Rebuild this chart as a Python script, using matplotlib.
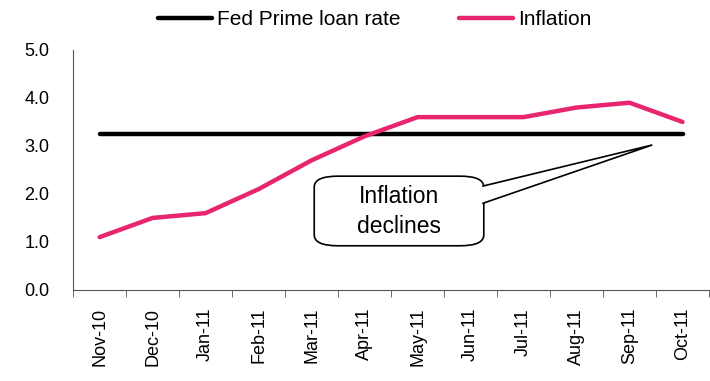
import matplotlib.pyplot as plt
from matplotlib.patches import FancyBboxPatch, Polygon
from matplotlib import font_manager

months = ['Nov-10', 'Dec-10', 'Jan-11', 'Feb-11', 'Mar-11', 'Apr-11',
          'May-11', 'Jun-11', 'Jul-11', 'Aug-11', 'Sep-11', 'Oct-11']
prime_rate = [3.25] * 12
inflation = [1.1, 1.5, 1.6, 2.1, 2.7, 3.2, 3.6, 3.6, 3.6, 3.8, 3.9, 3.5]

names = {f.name for f in font_manager.fontManager.ttflist}
narrow = 'Liberation Sans Narrow' if 'Liberation Sans Narrow' in names else 'Liberation Sans'
plt.rcParams['font.family'] = ['Liberation Sans', 'DejaVu Sans']

fig = plt.figure(figsize=(7.1, 3.81), dpi=100)
ax = fig.add_axes([0.103, 0.239, 0.8956, 0.63])

x = list(range(len(months)))
ax.plot(x, prime_rate, color='black', linewidth=3.2, solid_capstyle='round',
        label='Fed Prime loan rate')
ax.plot(x, inflation, color='#e8256f', linewidth=3.2, solid_capstyle='round',
        label='Inflation')

ax.set_xlim(-0.5, 11.5)
ax.set_ylim(0, 5)
ax.set_yticks([0, 1, 2, 3, 4, 5])
ax.set_yticklabels([f'{v:.1f}' for v in range(6)], fontsize=13)
ax.tick_params(axis='y', length=0, pad=17)

ax.set_xticks(x)
ax.set_xticklabels(months, rotation=90, fontsize=13)
ax.tick_params(axis='x', which='major', length=0, pad=13)
ax.set_xticks([i - 0.5 for i in range(13)], minor=True)
ax.tick_params(axis='x', which='minor', length=5, color='#555555', direction='out')

for s in ['top', 'right']:
    ax.spines[s].set_visible(False)
for s in ['left', 'bottom']:
    ax.spines[s].set_color('#555555')
    ax.spines[s].set_linewidth(0.8)

fig.legend(*ax.get_legend_handles_labels(), loc='center',
           bbox_to_anchor=(0.528, 0.948), ncol=2,
           frameon=False, handlelength=2.6, handletextpad=0.25,
           columnspacing=2.8, borderpad=0, prop={'family': narrow, 'size': 15})

# callout box with a wedge pointing at the last inflation readings
box = FancyBboxPatch((4.05, 0.92), 3.2, 1.45,
                     boxstyle='round,pad=0,rounding_size=0.45',
                     mutation_aspect=0.5,
                     facecolor='white', edgecolor='black', linewidth=1.2, zorder=4)
ax.add_patch(box)
wedge = Polygon([(7.22, 2.16), (10.43, 3.02), (7.22, 1.8)], closed=False,
                facecolor='white', edgecolor='black', linewidth=1.2, zorder=5)
ax.add_patch(wedge)
ax.text(5.65, 1.63, 'Inflation\ndeclines', ha='center', va='center',
        fontsize=16.5, linespacing=1.4, zorder=6)

fig.savefig('out.png', dpi=100)
